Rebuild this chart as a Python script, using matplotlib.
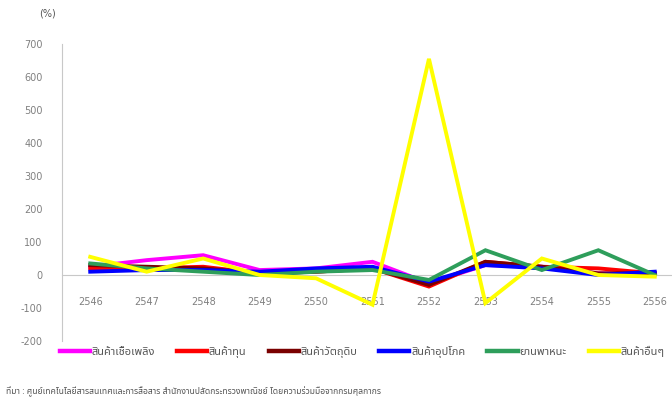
import matplotlib
matplotlib.use("Agg")
import matplotlib.pyplot as plt
import numpy as np

years = ["2546", "2547", "2548", "2549", "2550", "2551",
         "2552", "2553", "2554", "2555", "2556"]

fuel = [25, 45, 60, 15, 20, 40, -25, 30, 25, 5, 5]
capital = [20, 20, 25, 5, 10, 20, -35, 40, 25, 20, 5]
raw_material = [30, 25, 20, 5, 10, 20, -30, 40, 25, 5, 5]
consumer = [10, 15, 15, 10, 20, 25, -20, 30, 20, 0, 10]
vehicles = [35, 20, 10, 0, 10, 15, -15, 75, 15, 75, 0]
others = [55, 10, 50, 0, -10, -90, 655, -85, 50, 0, -5]

series_names = ["สินค้าเชื้อเพลิง", "สินค้าทุน", "สินค้าวัตถุดิบ",
                "สินค้าอุปโภค", "ยานพาหนะ", "สินค้าอื่นๆ"]
series_colors = ["#ff00ff", "#ff0000", "#7a0000", "#0000ff", "#2e9e5b", "#ffff00"]

yticks = [-200, -100, 0, 100, 200, 300, 400, 500, 600, 700]

thai = ["Noto Sans Thai", "Loma", "DejaVu Sans"]
grey = "#808080"

fig = plt.figure(figsize=(6.72, 4.12), dpi=100)
ax = fig.add_axes([62 / 672, 71 / 412, 621 / 672, 297 / 412])

# category axis runs along the zero line
for side in ["top", "right"]:
    ax.spines[side].set_visible(False)
ax.spines["bottom"].set_position(("data", 0))
ax.spines["bottom"].set_color("#c8c8c8")
ax.spines["left"].set_color("#c8c8c8")
ax.spines["bottom"].set_zorder(0)

x = np.arange(len(years))
for vals, name, col in zip([fuel, capital, raw_material, consumer, vehicles, others],
                           series_names, series_colors):
    ax.plot(x, vals, color=col, lw=2.8, label=name, solid_joinstyle="miter")

ax.set_xlim(-0.5, len(years) - 0.5)
ax.set_ylim(-200, 700)
ax.set_yticks(yticks)
ax.set_yticklabels([str(v) for v in yticks], fontsize=7, color=grey)
ax.tick_params(axis="y", length=0, pad=14)

ax.set_xticks(x)
ax.set_xticklabels(years, fontsize=7, color=grey)
ax.tick_params(axis="x", length=0, pad=16)

fig.text(47 / 672, 1 - 14 / 412, "(%)", fontsize=7, color="#555555",
         ha="center", va="center")

leg = fig.legend(loc="center", bbox_to_anchor=(362 / 672, 1 - 352 / 412), ncol=6,
                 frameon=False, prop={"family": thai, "size": 8},
                 handlelength=2.7, handletextpad=0.15, columnspacing=2.0)
for line in leg.get_lines():
    line.set_linewidth(3.2)
for t in leg.get_texts():
    t.set_color("#555555")

fig.text(6 / 672, 1 - 392 / 412,
         "ที่มา : ศูนย์เทคโนโลยีสารสนเทศและการสื่อสาร สำนักงานปลัดกระทรวงพาณิชย์ โดยความร่วมมือจากกรมศุลกากร",
         fontsize=6.2, family=thai, color="#555555", va="center", ha="left")

fig.savefig("out.png", dpi=100)
